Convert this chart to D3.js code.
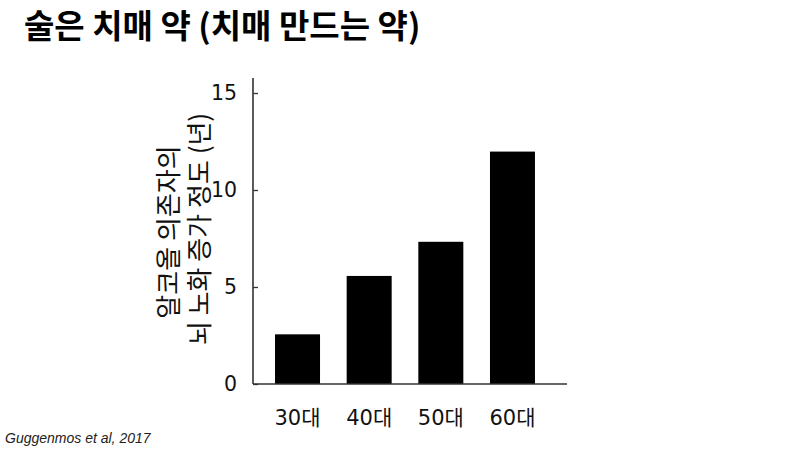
<!DOCTYPE html>
<html><head><meta charset="utf-8">
<script src="https://cdn.jsdelivr.net/npm/d3@7"></script>
<style>body{margin:0;background:#fff;}svg{display:block;}</style>
</head><body>
<svg id="chart" width="805" height="450"></svg>
<script>
const categories = ["30대", "40대", "50대", "60대"];
const values = [2.56, 5.57, 7.33, 11.98];
const yTicks = [0, 5, 10, 15];
const titleText = "술은 치매 약 (치매 만드는 약)";
const yLabelLines = ["알코올 의존자의", "뇌 노화 증가 정도 (년)"];
const sourceText = "Guggenmos et al, 2017";

const svg = d3.select("#chart");
const x0 = 253, x1 = 567, yBase = 384;
const y = d3.scaleLinear().domain([0, 15]).range([yBase, 93]);
const x = d3.scaleBand().domain(categories).range([261.7, 548.3]).paddingInner(0.372).paddingOuter(0.186);

// title
svg.append("text").attr("x", 24).attr("y", 38)
  .attr("font-family", "'Noto Sans CJK KR', sans-serif").attr("font-weight", "bold")
  .attr("font-size", 33).attr("fill", "#000").text(titleText);

// bars
svg.selectAll("rect.bar").data(values).enter().append("rect")
  .attr("class", "bar")
  .attr("x", (d, i) => x(categories[i]))
  .attr("width", x.bandwidth())
  .attr("y", d => y(d))
  .attr("height", d => yBase - y(d))
  .attr("fill", "#000");

// y axis
const yAxis = d3.axisLeft(y).tickValues(yTicks).tickSize(-5).tickPadding(16);
const gy = svg.append("g").attr("transform", `translate(${x0},0)`).call(yAxis);
gy.select(".domain").remove();
gy.append("line").attr("x1", 0).attr("x2", 0).attr("y1", 78).attr("y2", yBase).attr("stroke", "#333").attr("stroke-width", 1.6);
gy.selectAll(".tick line").attr("stroke", "#333").attr("stroke-width", 1.3);
gy.selectAll(".tick text").attr("font-family", "'DejaVu Sans', sans-serif").attr("font-size", 20.5).attr("fill", "#111");

// x axis
const xAxis = d3.axisBottom(x).tickSize(0).tickPadding(26);
const gx = svg.append("g").attr("transform", `translate(0,${yBase})`).call(xAxis);
gx.select(".domain").remove();
gx.append("line").attr("x1", x0).attr("x2", x1).attr("y1", 0).attr("y2", 0).attr("stroke", "#333").attr("stroke-width", 1.6);
gx.selectAll(".tick text").attr("font-family", "'DejaVu Sans', 'Noto Sans CJK KR', sans-serif").attr("font-size", 21).attr("fill", "#111");

// y label
const yl = svg.append("text").attr("transform", "rotate(-90)")
  .attr("font-family", "'Noto Sans CJK KR', sans-serif").attr("font-size", 26).attr("fill", "#111")
  .attr("text-anchor", "middle");
yl.append("tspan").attr("x", -232).attr("y", 178).text(yLabelLines[0]);
yl.append("tspan").attr("x", -229).attr("y", 209).text(yLabelLines[1]);

// source
svg.append("text").attr("x", 5).attr("y", 443)
  .attr("font-family", "'Liberation Sans', sans-serif").attr("font-style", "italic")
  .attr("font-size", 14).attr("fill", "#222").text(sourceText);
</script>
</body></html>
